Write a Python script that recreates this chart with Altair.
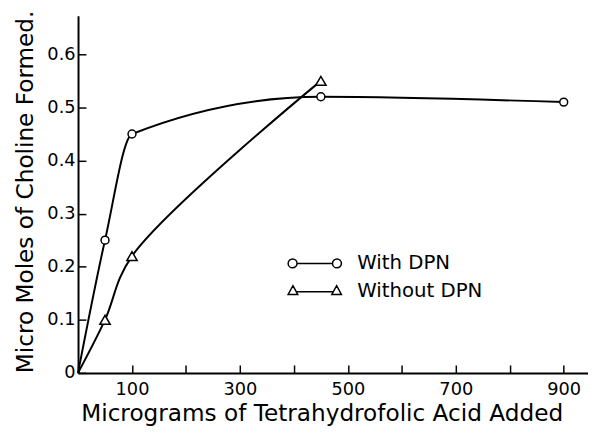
import altair as alt
import pandas as pd

# ---- data ----
with_x = [0, 50, 100, 450, 900]
with_y = [0, 0.25, 0.45, 0.52, 0.51]
without_x = [0, 50, 100, 450]
without_y = [0, 0.10, 0.22, 0.55]
series_names = ["With DPN", "Without DPN"]
x_ticks = [0, 100, 200, 300, 400, 500, 600, 700, 800, 900]
y_ticks = [0, 0.1, 0.2, 0.3, 0.4, 0.5, 0.6]
x_title = "Micrograms of Tetrahydrofolic Acid Added"
y_title = "Micro Moles of Choline Formed."

FONT = "DejaVu Sans"
W, H = 517, 362


def circle_path(cx, cy, r):
    k = 0.5523 * r
    f = lambda v: f"{v:.4f}"
    return (f"M {f(cx + r)} {f(cy)} "
            f"C {f(cx + r)} {f(cy + k)} {f(cx + k)} {f(cy + r)} {f(cx)} {f(cy + r)} "
            f"C {f(cx - k)} {f(cy + r)} {f(cx - r)} {f(cy + k)} {f(cx - r)} {f(cy)} "
            f"C {f(cx - r)} {f(cy - k)} {f(cx - k)} {f(cy - r)} {f(cx)} {f(cy - r)} "
            f"C {f(cx + k)} {f(cy - r)} {f(cx + r)} {f(cy - k)} {f(cx + r)} {f(cy)} Z")


sym_with = (circle_path(-0.833, 0, 0.167) + " " + circle_path(0.833, 0, 0.167)
            + " M -0.666 0 L 0.666 0")
sym_without = ("M -0.82 -0.2 L -0.64 0.13 L -1 0.13 Z "
               "M 0.82 -0.2 L 1 0.13 L 0.64 0.13 Z "
               "M -0.69 0.03 L 0.69 0.03")

x_enc = alt.X(
    "x:Q",
    scale=alt.Scale(domain=[0, 945], nice=False, zero=True),
    axis=alt.Axis(
        values=x_ticks,
        labelExpr="datum.value % 200 == 100 ? datum.label : ''",
        title=x_title, titleFont=FONT, titleFontSize=23.5, titleFontWeight="normal",
        titleColor="black", titleX=247, titleY=48, titleBaseline="alphabetic",
        labelFont=FONT, labelFontSize=18, labelColor="black", labelPadding=8,
        labelFlush=False, labelOverlap=False,
        ticks=False, tickSize=0,
        domainColor="black", domainWidth=2,
        grid=True, gridColor="black", gridWidth=1.5, gridOpacity=1,
        gridDash=[8, H - 8], gridDashOffset=8,
    ),
)
y_enc = alt.Y(
    "y:Q",
    scale=alt.Scale(domain=[0, 0.6725], nice=False, zero=True),
    axis=alt.Axis(
        values=y_ticks,
        labelExpr="datum.value == 0 ? '0' : format(datum.value, '.1f')",
        title=y_title, titleFont=FONT, titleFontSize=23.5, titleFontWeight="normal",
        titleColor="black", titleX=-46, titleY=178, titleAngle=270,
        titleBaseline="alphabetic",
        labelFont=FONT, labelFontSize=18, labelColor="black", labelPadding=3,
        labelOverlap=False,
        ticks=False, tickSize=0,
        domainColor="black", domainWidth=2,
        grid=True, gridColor="black", gridWidth=1.5, gridOpacity=1,
        gridDash=[8, 2000],
    ),
)


def series_layer(xs, ys, name, shape, size, interp, symbol, lx, ly):
    df = pd.DataFrame({"x": xs, "y": ys, "series": name})
    base = alt.Chart(df).encode(x=x_enc, y=y_enc)
    line = base.mark_line(interpolate=interp, strokeWidth=2).encode(
        color=alt.Color(
            "series:N",
            scale=alt.Scale(domain=[name], range=["black"]),
            legend=alt.Legend(
                title=None, orient="none", legendX=lx, legendY=ly,
                symbolType=symbol, symbolSize=2916, symbolStrokeWidth=1.5,
                symbolStrokeColor="black", symbolFillColor="white",
                symbolOpacity=1,
                labelFont=FONT, labelFontSize=20, labelColor="black",
                labelOffset=15, padding=0,
            ),
        )
    )
    pts = base.transform_filter("datum.x > 0").mark_point(
        shape=shape, size=size, filled=True, fill="white", stroke="black",
        strokeWidth=1.5, opacity=1,
    )
    return alt.layer(line, pts)


layer_with = series_layer(with_x, with_y, series_names[0], "circle", 64,
                          "monotone", sym_with, 212, 223)
layer_without = series_layer(without_x, without_y, series_names[1],
                             "triangle-up", 110, "catmull-rom", sym_without,
                             212, 251)

chart = (
    alt.layer(layer_with, layer_without)
    .resolve_scale(color="independent")
    .properties(
        width=W, height=H,
        autosize=alt.AutoSizeParams(type="none"),
        padding={"left": 71, "top": 5, "right": 0, "bottom": 58},
        background="white",
    )
    .configure_view(stroke=None)
)

chart.save("out.html", embed_options={"renderer": "svg", "actions": False})
